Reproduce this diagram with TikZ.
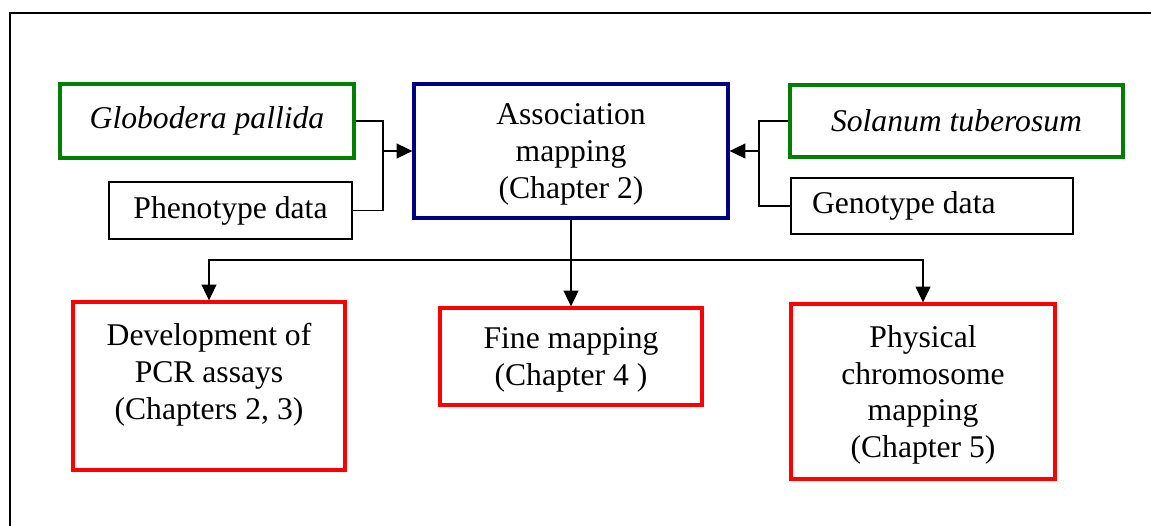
\documentclass[tikz,border=0pt]{standalone}
\usepackage{fontspec}
\setmainfont{Liberation Serif}
\usetikzlibrary{positioning,arrows.meta}

\definecolor{specgreen}{RGB}{0,128,0}
\definecolor{mapblue}{RGB}{0,0,128}
\definecolor{chapred}{RGB}{255,0,0}

\tikzset{
  every node/.style={font=\fontsize{18}{21}\selectfont, align=center, inner sep=0pt},
  specbox/.style={draw=specgreen, line width=1.9pt},
  databox/.style={draw=black, line width=0.7pt},
  mapbox/.style={draw=mapblue, line width=1.9pt, text depth=0pt},
  chapbox/.style={draw=chapred, line width=1.9pt, text depth=0pt},
  link/.style={line width=0.75pt},
  arr/.style={link, -{Triangle[length=9pt,width=8.5pt]}}
}

\begin{document}
\begin{tikzpicture}[x=0.02cm,y=-0.02cm]
\useasboundingbox (0,0) rectangle (1151,525);
% outer frame
\draw[line width=0.85pt] (1160,13) -| (10,535);

% inputs
\node[specbox, minimum width=5.88cm, minimum height=1.48cm] (glob) at (207,121) {\textit{Globodera pallida}};
\node[databox, minimum width=4.86cm, minimum height=1.14cm] (pheno) at (230.5,210.5) {Phenotype data};
\node[specbox, minimum width=6.66cm, minimum height=1.44cm] (sol) at (956.5,121) {\textit{Solanum tuberosum}};
\node[databox, minimum width=5.64cm, minimum height=1.12cm] (geno) at (932,206) {\makebox[4.8cm][l]{Genotype data}};

% association mapping
\node[mapbox, minimum width=6.28cm, minimum height=2.68cm] (assoc) at (571,151) {Association\\mapping\\(Chapter 2)};

% outputs
\node[chapbox, minimum width=5.44cm, minimum height=3.36cm] (pcr) at (209,386) {Development of\\PCR assays\\(Chapters 2, 3)\\[-4.5pt]\mbox{}};
\node[chapbox, minimum width=5.24cm, minimum height=1.94cm] (fine) at (571,356.5) {Fine mapping\\(Chapter 4 )};
\node[chapbox, minimum width=5.28cm, minimum height=3.5cm] (phys) at (923,391.5) {Physical\\chromosome\\mapping\\(Chapter 5)};

% joins
\coordinate (ljoin) at (383,151);
\coordinate (rjoin) at (759,151);
\coordinate (split) at (571,260);

\draw[link] (glob.east) -| (ljoin);
\draw[link] (pheno.east) -| (ljoin);
\draw[arr] (ljoin) -- (assoc.west);
\draw[link] (sol.west) -| (rjoin);
\draw[link] (geno.west) -| (rjoin);
\draw[arr] (rjoin) -- (assoc.east);

\draw[link] (assoc.south) -- (split);
\draw[arr] (split) -- (fine.north);
\draw[arr] (split) -| (pcr.north);
\draw[arr] (split) -| (phys.north);
\end{tikzpicture}
\end{document}
